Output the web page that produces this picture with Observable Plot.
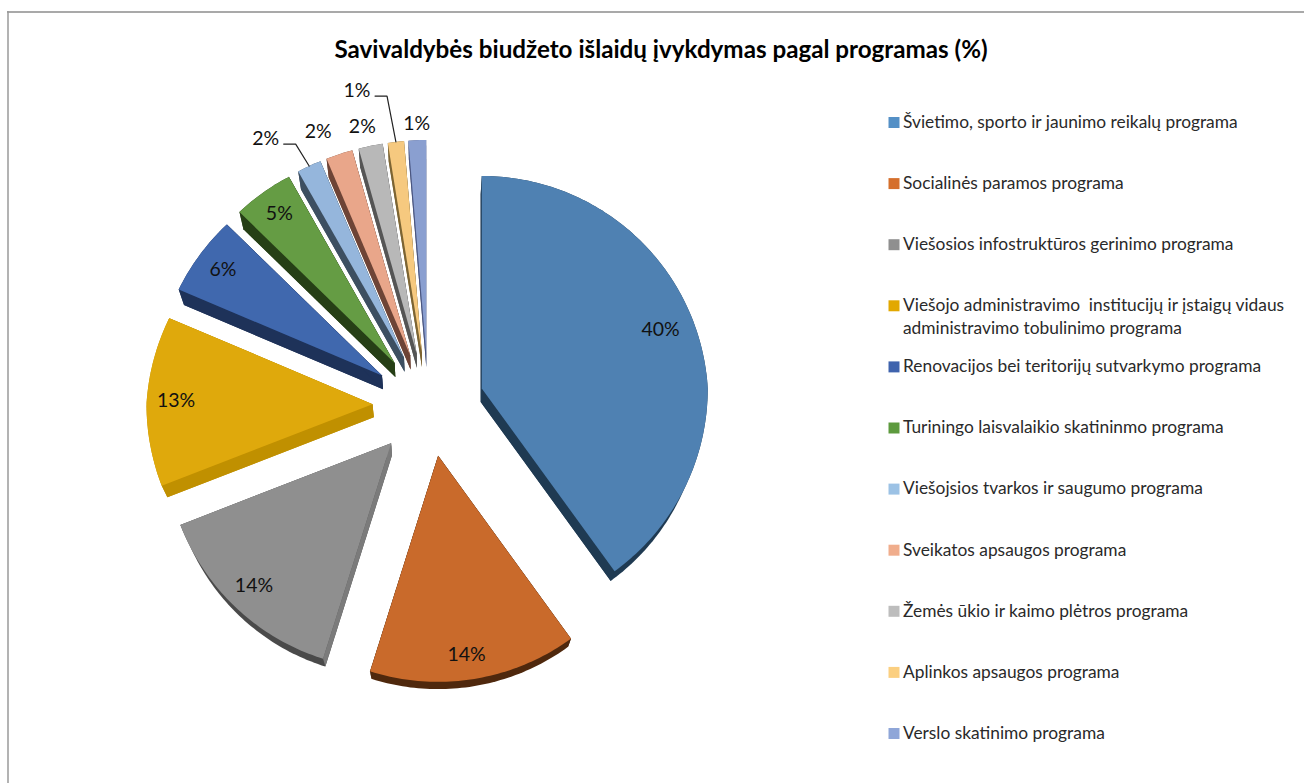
<!DOCTYPE html>
<html lang="lt">
<head>
<meta charset="utf-8">
<title>Savivaldybės biudžeto išlaidų įvykdymas pagal programas (%)</title>
<script src="https://cdn.jsdelivr.net/npm/d3@7"></script>
<script src="https://cdn.jsdelivr.net/npm/@observablehq/plot@0.6"></script>
<style>
  html, body { margin: 0; padding: 0; background: #fff; overflow: hidden; }
  svg { display: block; }
</style>
</head>
<body>
<div id="chart"></div>
<script>
const title = "Savivaldybės biudžeto išlaidų įvykdymas pagal programas (%)";

const categories = [
  "Švietimo, sporto ir jaunimo reikalų programa",
  "Socialinės paramos programa",
  "Viešosios infostruktūros gerinimo programa",
  "Viešojo administravimo  institucijų ir įstaigų vidaus\nadministravimo tobulinimo programa",
  "Renovacijos bei teritorijų sutvarkymo programa",
  "Turiningo laisvalaikio skatininmo programa",
  "Viešojsios tvarkos ir saugumo programa",
  "Sveikatos apsaugos programa",
  "Žemės ūkio ir kaimo plėtros programa",
  "Aplinkos apsaugos programa",
  "Verslo skatinimo programa"
];
const values = [40, 14.49, 14.3, 12.6, 6, 4.5, 1.8, 2, 1.8, 1.2, 1.31];

const faceColors = ["#4f81b2", "#c96a2b", "#8f8f8f", "#dfa90c", "#4068ae", "#659c44", "#95b6dc", "#e9a68a", "#b8b8b8", "#f6c97f", "#8a9fd0"];
const legendColors = ["#5490c6", "#d56f2c", "#8f8f8f", "#e2a800", "#3f63ad", "#5d9a3e", "#9cc2e5", "#f0ad8c", "#bdbdbd", "#fbcf80", "#8fa6d8"];
const wallColors = ["#1f3a52", "#4f280d", "#7b7b7b", "#c09000", "#1e3259", "#263f16", "#3d4f61", "#6e4436", "#555555", "#7c6433", "#4a5680"];
const rimColors  = ["#1f3a52", "#4f280d", "#4a4a4a", "#c09000", "#1e3259", "#263f16", "#3d4f61", "#6e4436", "#555555", "#7c6433", "#4a5680"];

// chart-style options, one per slice: how far the label sits along the slice, and its angular shift
const labelRadius = [0.845, 0.89, 0.875, 0.87, 0.87, 0.87, 1.22, 1.14, 1.10, 1.29, 1.08];
const labelShift  = [0, 1, 0.5, 0, 0, 0, -6, -3, -1, -6.9, 0];
const hasLeader   = [false, false, false, false, false, false, true, false, false, true, false];

const W = 1304, H = 783;
const cx = 428, cy = 404, R = 226, explode = 56, tilt = 0.93;
const vanishX = 430, vanishY = 1030, depth = 0.021;
const rad = Math.PI / 180;

const arcs = d3.pie().sort(null).value(d => d)(values);

// the 3-D view slightly displaces the apparent angles on the far and the lower-left side of the pie
function viewAngle(deg) {
  if (deg > 144 && deg < 290) return deg + 1.5 * Math.sin(Math.PI * (deg - 144) / 146);
  if (deg >= 290 && deg < 360) return deg - 0.4 * Math.sin(Math.PI * (deg - 290) / 70);
  return deg;
}

function project(ax, ay, r, deg) {
  const c = Math.cos(deg * rad), s = Math.sin(deg * rad);
  const f = c > 0 ? 1 - 0.06 * c * (r / R) : 1;
  return [ax + r * s * f, ay - r * c * f];
}
const lower = ([x, y]) => [x + (vanishX - x) * depth, y + (vanishY - y) * depth];

const slices = arcs.map((a, i) => {
  const a0 = a.startAngle / rad, a1 = a.endAngle / rad, mid = (a0 + a1) / 2;
  const apex = [cx + explode * Math.sin(mid * rad), cy - explode * tilt * Math.cos(mid * rad)];
  const rim = d3.range(a0, a1, 1).concat([a1]).map(t => project(apex[0], apex[1], R, viewAngle(t)));
  const face = [apex, ...rim];
  return {i, name: categories[i], mid, apex, rim, face,
          hull: d3.polygonHull([...face, ...face.map(lower)]),
          walls: [[apex, rim[0], lower(rim[0]), lower(apex)],
                  [apex, rim[rim.length - 1], lower(rim[rim.length - 1]), lower(apex)]],
          label: project(apex[0], apex[1], R * labelRadius[i], viewAngle(mid) + labelShift[i]),
          rimMid: project(apex[0], apex[1], R, viewAngle(mid))};
});

const rowsOf = (points, id, extra) => points.map(([x, y]) => ({x, y, id, ...extra}));
const hullRows = slices.flatMap(s => rowsOf(s.hull, s.i, {color: rimColors[s.i]}));
const wallRows = slices.flatMap(s => s.walls.flatMap((w, k) => rowsOf(w, s.i + "-" + k, {color: wallColors[s.i]})));
const faceRows = slices.flatMap(s => rowsOf(s.face, s.i, {name: s.name}));
const labelRows = slices.map(s => ({x: s.label[0], y: s.label[1], text: Math.round(values[s.i]) + "%"}));
const leaderRows = slices.filter(s => hasLeader[s.i]).flatMap(s => {
  const start = [s.label[0] + 18, s.label[1] + 5];
  return rowsOf([start, [start[0] + 12, start[1]], s.rimMid], s.i, {});
});

const legendX = 893.5, legendTextX = 902.5, legendTop = 122, legendStep = 61.1;
const legendRows = categories.map((name, i) => ({name, swatch: legendColors[i], y: legendTop + i * legendStep}));

const fontFamily = "Lato, Carlito, Calibri, sans-serif";

const chart = Plot.plot({
  width: W, height: H, margin: 0,
  style: {background: "#fff", fontFamily},
  x: {domain: [0, W], range: [0, W], axis: null},
  y: {domain: [0, H], range: [0, H], axis: null},
  color: {domain: categories, range: faceColors},
  marks: [
    Plot.ruleY([11.5], {x1: 7, x2: W, stroke: "#8c8c8c", strokeWidth: 1.5}),
    Plot.ruleX([7.5], {y1: 11, y2: H, stroke: "#9a9a9a", strokeWidth: 1.5}),
    Plot.text([title], {x: () => 660.5, y: () => 50, text: d => d, fontSize: 24.2, fontWeight: 700, fill: "#000"}),
    Plot.line(hullRows, {x: "x", y: "y", z: "id", fill: {value: "color", scale: null}, stroke: "none"}),
    Plot.line(wallRows, {x: "x", y: "y", z: "id", fill: {value: "color", scale: null}, stroke: "none"}),
    Plot.line(faceRows, {x: "x", y: "y", z: "id", fill: "name", stroke: "none"}),
    Plot.line(leaderRows, {x: "x", y: "y", z: "id", stroke: "#222", strokeWidth: 1.2}),
    Plot.text(labelRows, {x: "x", y: "y", text: "text", fontSize: 19.5, dy: -0.5, fill: "#111"}),
    Plot.dot(legendRows, {x: () => legendX, y: "y", symbol: "square", r: 6.2, fill: {value: "swatch", scale: null}, stroke: "none"}),
    Plot.text(legendRows, {x: () => legendTextX, y: d => d.y - 11, text: "name", textAnchor: "start", lineAnchor: "top", lineHeight: 1.33, fontSize: 17.35, fill: "#2a2a2a"})
  ]
});
document.getElementById("chart").append(chart);
</script>
</body>
</html>
